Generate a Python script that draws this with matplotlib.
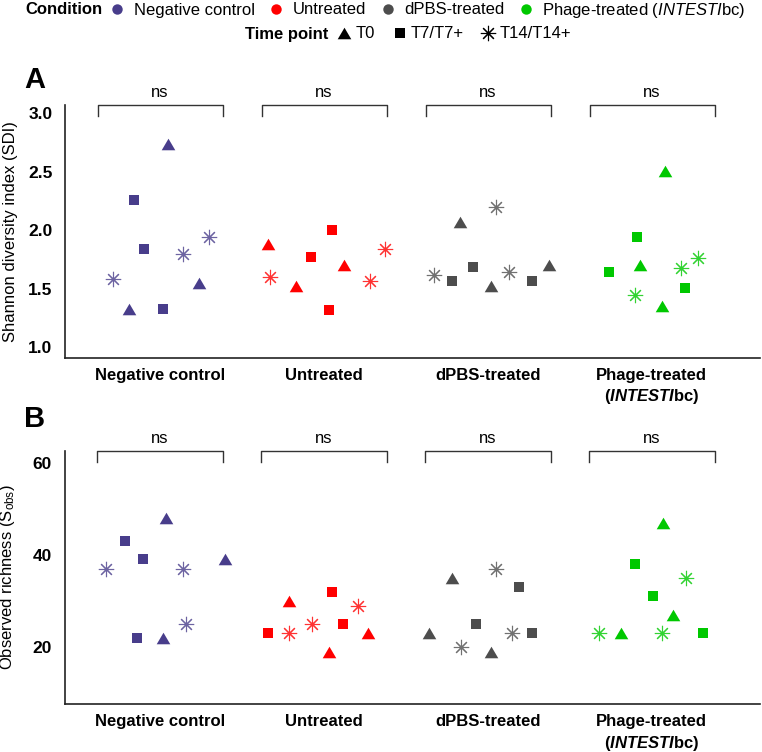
import matplotlib
matplotlib.use("Agg")
import matplotlib.pyplot as plt
from matplotlib.lines import Line2D
from matplotlib.path import Path
import numpy as np

plt.rcParams['font.family'] = ['Liberation Sans', 'DejaVu Sans']
plt.rcParams['mathtext.fontset'] = 'custom'
plt.rcParams['mathtext.rm'] = 'Liberation Sans'
plt.rcParams['mathtext.it'] = 'Liberation Sans:italic'
plt.rcParams['mathtext.bf'] = 'Liberation Sans:bold'
plt.rcParams['mathtext.bfit'] = 'Liberation Sans:bold:italic'

# ---------------- data ----------------
conditions = ["Negative control", "Untreated", "dPBS-treated", "Phage-treated"]
legend_conditions = ["Negative control", "Untreated", "dPBS-treated",
                     r"Phage-treated ($\mathit{INTESTI}$bc)"]
tick_labels = ["Negative control", "Untreated", "dPBS-treated",
               "Phage-treated\n" + r"($\mathbfit{INTESTI}$bc)"]
time_points = ["T0", "T7/T7+", "T14/T14+"]
colors = ["#483D8B", "#FF0000", "#4D4D4D", "#00C800"]

# Panel A: Shannon diversity index, one list per condition
sdi_T0 = [[1.33, 2.74, 1.55], [1.88, 1.52, 1.70], [2.07, 1.52, 1.70], [1.70, 1.35, 2.51]]
sdi_T7 = [[2.26, 1.84, 1.33], [1.77, 1.32, 2.00], [1.57, 1.69, 1.57], [1.64, 1.94, 1.51]]
sdi_T14 = [[1.58, 1.80, 1.94], [1.60, 1.57, 1.84], [1.62, 2.20, 1.64], [1.45, 1.68, 1.76]]
sdi_jit_T0 = [[-0.19, 0.05, 0.24], [-0.34, -0.17, 0.12], [-0.17, 0.02, 0.37], [-0.07, 0.06, 0.08]]
sdi_jit_T7 = [[-0.16, -0.10, 0.02], [-0.08, 0.03, 0.05], [-0.22, -0.09, 0.27], [-0.26, -0.09, 0.20]]
sdi_jit_T14 = [[-0.29, 0.14, 0.30], [-0.33, 0.28, 0.37], [-0.33, 0.05, 0.13], [-0.10, 0.18, 0.28]]

# Panel B: observed richness, one list per condition
sobs_T0 = [[22, 48, 39], [30, 19, 23], [23, 35, 19], [23, 47, 27]]
sobs_T7 = [[43, 22, 39], [23, 32, 25], [25, 33, 23], [38, 31, 23]]
sobs_T14 = [[37, 37, 25], [23, 25, 29], [20, 37, 23], [23, 23, 35]]
sobs_jit_T0 = [[0.02, 0.04, 0.40], [-0.21, 0.03, 0.27], [-0.36, -0.22, 0.02], [-0.19, 0.07, 0.13]]
sobs_jit_T7 = [[-0.21, -0.14, -0.10], [-0.34, 0.05, 0.12], [-0.07, 0.19, 0.27], [-0.10, 0.01, 0.31]]
sobs_jit_T14 = [[-0.33, 0.14, 0.16], [-0.21, -0.07, 0.21], [-0.16, 0.05, 0.15], [-0.32, 0.06, 0.21]]

sig_labels = ["ns", "ns", "ns", "ns"]

# ---------------- styles ----------------
tri = Path([(-1, -0.85), (1, -0.85), (0, 0.85), (-1, -0.85)],
           [Path.MOVETO, Path.LINETO, Path.LINETO, Path.CLOSEPOLY])
marker_styles = [
    dict(marker=tri, markersize=9.8, markeredgewidth=0),
    dict(marker='s', markersize=7.3, markeredgewidth=0),
    dict(marker=(8, 2, 0), markersize=11, markeredgewidth=0.8),
]

W, H = 762, 752
fig = plt.figure(figsize=(W / 100, H / 100), dpi=100)

def fx(px):
    return px / W

def fy(py):
    return 1 - py / H

axA = fig.add_axes([fx(65), fy(357.7), fx(760 - 65), (357.7 - 105) / H])
axB = fig.add_axes([fx(64.5), fy(704), fx(760 - 64.5), (704 - 451) / H])

def draw_panel(ax, vals, jits, ylim, yticks, yticklabels, ylabel, letter, letter_y):
    for ti, (v_list, j_list) in enumerate(zip(vals, jits)):
        for ci in range(len(conditions)):
            x = np.array(j_list[ci]) + ci
            st = marker_styles[ti]
            if ti == 2:
                ax.plot(x, v_list[ci], linestyle='none', color=colors[ci],
                        markeredgecolor=colors[ci], alpha=0.8, **st)
            else:
                ax.plot(x, v_list[ci], linestyle='none', color=colors[ci], **st)
    ax.set_xlim(-0.58, 3.66)
    ax.set_ylim(*ylim)
    ax.set_yticks(yticks)
    ax.set_yticklabels(yticklabels, fontsize=12.5, fontweight='bold')
    ax.set_xticks(range(len(conditions)))
    ax.set_xticklabels(tick_labels, fontsize=12, fontweight='bold', linespacing=1.3)
    ax.tick_params(axis='both', length=0)
    ax.tick_params(axis='y', pad=9)
    ax.tick_params(axis='x', pad=7.5)
    for s in ['top', 'right']:
        ax.spines[s].set_visible(False)
    for s in ['left', 'bottom']:
        ax.spines[s].set_linewidth(1.2)
        ax.spines[s].set_color('#222222')
    ax.set_ylabel(ylabel, fontsize=12)
    ax.yaxis.set_label_coords(-0.0676, 0.5)
    # significance brackets
    trans = ax.get_xaxis_transform()
    for ci, lab in enumerate(sig_labels):
        x0, x1 = ci - 0.38, ci + 0.385
        ax.plot([x0, x0, x1, x1], [0.955, 1.0, 1.0, 0.955], color='#333333',
                lw=1.0, transform=trans, clip_on=False)
        ax.text(ci, 1.018, lab, transform=trans, ha='center', va='bottom', fontsize=12)
    fig.text(fx(24), fy(letter_y), letter, fontsize=21,
             fontweight='bold', ha='left', va='baseline')

draw_panel(axA, [sdi_T0, sdi_T7, sdi_T14], [sdi_jit_T0, sdi_jit_T7, sdi_jit_T14],
           (0.911, 3.071), [1.0, 1.5, 2.0, 2.5, 3.0], ["1.0", "1.5", "2.0", "2.5", "3.0"],
           "Shannon diversity index (SDI)", "A", 88)
draw_panel(axB, [sobs_T0, sobs_T7, sobs_T14], [sobs_jit_T0, sobs_jit_T7, sobs_jit_T14],
           (7.7, 62.5), [20, 40, 60], ["20", "40", "60"],
           r"Observed richness (S$_{\mathrm{obs}}$)", "B", 427)

# ---------------- legends ----------------
fig.text(fx(102), fy(10), "Condition", fontsize=12, fontweight='bold', ha='right', va='center')
cond_handles = [Line2D([], [], linestyle='none', marker='o', markersize=7.5,
                       markerfacecolor=c, markeredgewidth=0) for c in colors]
fig.legend(cond_handles, legend_conditions, loc='center left',
           bbox_to_anchor=(fx(109), fy(10)), ncol=4, frameon=False, fontsize=12,
           handlelength=1.0, handletextpad=0.48, columnspacing=0.8, borderpad=0,
           borderaxespad=0)

fig.text(fx(328), fy(34), "Time point", fontsize=12, fontweight='bold', ha='right', va='center')
tp_handles = [Line2D([], [], linestyle='none', color='black', **marker_styles[0]),
              Line2D([], [], linestyle='none', color='black', **{**marker_styles[1], 'markersize': 6.5}),
              Line2D([], [], linestyle='none', color='black', **marker_styles[2])]
fig.legend(tp_handles, time_points, loc='center left',
           bbox_to_anchor=(fx(336), fy(34)), ncol=3, frameon=False, fontsize=12,
           handlelength=1.0, handletextpad=0.15, columnspacing=1.0, borderpad=0,
           borderaxespad=0)

fig.savefig("out.png", dpi=100)
